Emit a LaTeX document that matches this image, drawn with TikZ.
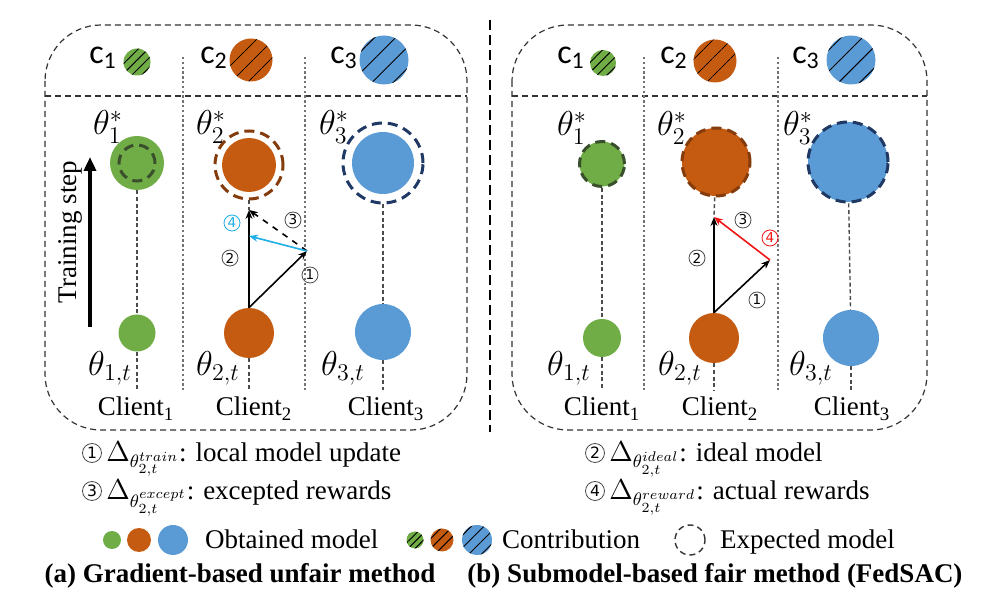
\documentclass[tikz,border=0pt]{standalone}
\usepackage{fontspec}
\setmainfont{Liberation Serif}
\newfontfamily\circfont{DejaVu Sans}
\newfontfamily\cfont{Carlito}
\usepackage{tikz}
\usetikzlibrary{positioning, arrows.meta, patterns.meta}

\definecolor{cgreen}{HTML}{70AD47}
\definecolor{corange}{HTML}{C55A11}
\definecolor{cblue}{HTML}{5B9BD5}
\definecolor{dgreen}{HTML}{3A4F2C}
\definecolor{dorange}{HTML}{843C0C}
\definecolor{dblue}{HTML}{203864}
\definecolor{cyanA}{HTML}{1EAEE8}
\definecolor{redA}{HTML}{F01515}

% lowered double script for the legend
\newcommand{\lowsub}[1]{\lower1.2pt\hbox{$\scriptscriptstyle #1$}}

\begin{document}
\begin{tikzpicture}[
  x=0.5pt, y=-0.5pt,
  font=\fontsize{13.5}{16}\selectfont,
  frame/.style={draw=black!80, line width=0.6pt, dash pattern=on 3pt off 2pt},
  colsep/.style={draw=black!55, line width=0.6pt, dash pattern=on 1.2pt off 1.2pt},
  link/.style={draw=black!70, line width=0.7pt, dash pattern=on 2pt off 1.3pt},
  ball/.style={circle, inner sep=0pt, minimum size=#1},
  halo/.style={circle, inner sep=0pt, minimum size=#1, line width=1.5pt, dash pattern=on 5pt off 3pt},
  hatch/.style={pattern={Lines[angle=45, distance=#1, line width=0.5pt]}},
  num/.style={circle, draw=black!70, line width=0.4pt, inner sep=0pt, minimum size=8pt,
    font=\circfont\fontsize{6.8}{7}\selectfont},
  keynum/.style={num, minimum size=9.5pt, font=\circfont\fontsize{7.8}{8}\selectfont},
  theta/.style={font=\fontsize{17}{17}\selectfont},
  upd/.style={line width=0.8pt, -{Stealth[length=4.5pt, width=3.5pt]}},
  cl/.style={font=\cfont\fontsize{17}{17}\selectfont},
  keytext/.style={anchor=base west, inner sep=0pt},
]
\useasboundingbox (0,0) rectangle (991,603);

% ---------------- (a) gradient-based ----------------
\draw[frame, rounded corners=28pt] (45,25) rectangle (467,430);
\draw[frame] (45,96) -- (467,96);
\foreach \x in {183,305} \draw[colsep] (\x,57) -- (\x,390);

% contributions
\node[cl] (aL1) at (103,58) {c\textsubscript{1}};
\node[cl] (aL2) at (214,58) {c\textsubscript{2}};
\node[cl] (aL3) at (344,58) {c\textsubscript{3}};
\node[ball=13.5pt, preaction={fill=cgreen}, hatch=3.5pt] (aC1) at (137,62) {};
\node[ball=21.5pt, preaction={fill=corange}, hatch=6.5pt] (aC2) at (251,60) {};
\node[ball=24.5pt, preaction={fill=cblue}, hatch=7.5pt] (aC3) at (384,60) {};

% expected models (top) and obtained models (bottom)
\node[ball=27pt, fill=cgreen] (aTop1) at (137,163) {};
\node[halo=18pt, draw=dgreen] (aExp1) at (137,163) {};
\node[ball=27pt, fill=corange] (aTop2) at (249,165) {};
\node[halo=34pt, draw=dorange] (aExp2) at (249,165) {};
\node[ball=31pt, fill=cblue] (aTop3) at (383,163) {};
\node[halo=40pt, draw=dblue] (aExp3) at (383,163) {};

\node[ball=18.5pt, fill=cgreen] (aBot1) at (137,333) {};
\node[ball=25pt, fill=corange] (aBot2) at (249,333) {};
\node[ball=28pt, fill=cblue] (aBot3) at (383,332) {};

\node[theta] (aS1) at (108,127) {$\theta_1^*$};
\node[theta] (aS2) at (211,127) {$\theta_2^*$};
\node[theta] (aS3) at (334,127) {$\theta_3^*$};
\node[theta] (aT1) at (110,368) {$\theta_{1,t}$};
\node[theta] (aT2) at (218,368) {$\theta_{2,t}$};
\node[theta] (aT3) at (343,368) {$\theta_{3,t}$};
\node[anchor=base] (aK1) at (136,416) {Client\textsubscript{1}};
\node[anchor=base] (aK2) at (254,416) {Client\textsubscript{2}};
\node[anchor=base] (aK3) at (386,416) {Client\textsubscript{3}};

\coordinate (aEnd1) at (137,390);
\coordinate (aEnd2) at (249,390);
\coordinate (aEnd3) at (383,390);
\coordinate (aIdeal) at (249,210);
\coordinate (aTrain) at (307,251);
\coordinate (aReward) at (249,236);

\draw[link] (aTop1) -- (aBot1);
\draw[link] (aBot1) -- (aEnd1);
\draw[link] (aExp2) -- (aIdeal);
\draw[link] (aBot2) -- (aEnd2);
\draw[link] (aExp3) -- (aBot3);
\draw[link] (aBot3) -- (aEnd3);

% updates
\draw[upd] (aBot2.north) -- (aIdeal);
\draw[upd] (aBot2.north) -- (aTrain);
\draw[upd, dashed] (aTrain) -- (aIdeal);
\draw[upd, color=cyanA] (aTrain) -- (aReward);
\node[num] (aN1) at (310,275) {1};
\node[num] (aN2) at (230,258) {2};
\node[num] (aN3) at (293,220) {3};
\node[num, draw=cyanA, text=cyanA] (aN4) at (232,223) {4};

% training direction
\coordinate (tsFrom) at (90,327);
\coordinate (tsTo) at (90,157);
\draw[line width=2pt, -{Triangle[length=7pt, width=6pt]}] (tsFrom) -- (tsTo);
\node[rotate=90] (tsLab) at (70,232) {Training step};

% divider
\coordinate (divTop) at (490,20);
\coordinate (divBot) at (490,432);
\draw[line width=0.9pt, dash pattern=on 5pt off 2.5pt] (divTop) -- (divBot);

% ---------------- (b) FedSAC ----------------
\draw[frame, rounded corners=28pt] (512,25) rectangle (927,430);
\draw[frame] (512,96) -- (927,96);
\foreach \x in {644,778} \draw[colsep] (\x,57) -- (\x,390);

\node[cl] (bL1) at (571,58) {c\textsubscript{1}};
\node[cl] (bL2) at (674,58) {c\textsubscript{2}};
\node[cl] (bL3) at (806,58) {c\textsubscript{3}};
\node[ball=13pt, preaction={fill=cgreen}, hatch=3.5pt] (bC1) at (603,63) {};
\node[ball=21.5pt, preaction={fill=corange}, hatch=6.5pt] (bC2) at (715,61) {};
\node[ball=24.5pt, preaction={fill=cblue}, hatch=7.5pt] (bC3) at (851,60) {};

\node[halo=22.5pt, fill=cgreen, draw=dgreen] (bTop1) at (602,164) {};
\node[halo=34pt, fill=corange, draw=dorange] (bTop2) at (716,162) {};
\node[halo=40pt, fill=cblue, draw=dblue] (bTop3) at (848,162) {};

\node[ball=19pt, fill=cgreen] (bBot1) at (602,338) {};
\node[ball=25pt, fill=corange] (bBot2) at (714,338) {};
\node[ball=28pt, fill=cblue] (bBot3) at (851,338) {};

\node[theta] (bS1) at (572,128) {$\theta_1^*$};
\node[theta] (bS2) at (672,128) {$\theta_2^*$};
\node[theta] (bS3) at (798,128) {$\theta_3^*$};
\node[theta] (bT1) at (569,368) {$\theta_{1,t}$};
\node[theta] (bT2) at (680,368) {$\theta_{2,t}$};
\node[theta] (bT3) at (811,368) {$\theta_{3,t}$};
\node[anchor=base] (bK1) at (602,416) {Client\textsubscript{1}};
\node[anchor=base] (bK2) at (720,416) {Client\textsubscript{2}};
\node[anchor=base] (bK3) at (852,416) {Client\textsubscript{3}};

\coordinate (bEnd1) at (602,390);
\coordinate (bEnd2) at (714,390);
\coordinate (bEnd3) at (851,390);
\coordinate (bIdeal) at (714,217);
\coordinate (bTrain) at (770,260);

\draw[link] (bTop1) -- (bBot1);
\draw[link] (bBot1) -- (bEnd1);
\draw[link] (bTop2) -- (bIdeal);
\draw[link] (bBot2) -- (bEnd2);
\draw[link] (bTop3) -- (bBot3);
\draw[link] (bBot3) -- (bEnd3);

\draw[upd] (bBot2.north) -- (bIdeal);
\draw[upd] (bBot2.north) -- (bTrain);
\draw[upd, color=redA] (bTrain) -- (bIdeal);
\node[num] (bN1) at (757,300) {1};
\node[num] (bN2) at (697,258) {2};
\node[num] (bN3) at (743,220) {3};
\node[num, draw=redA, text=redA] (bN4) at (770,238) {4};

% ---------------- legend ----------------
\node[keynum] (kn1) at (92,453) {1};
\node[keytext] (keyTrain) at (106,462) {$\Delta_{\theta^{train}_{\lowsub{2,t}}}$: local model update};
\node[keynum] (kn3) at (92,491) {3};
\node[keytext] (keyExcept) at (106,500) {$\Delta_{\theta^{except}_{\lowsub{2,t}}}$: excepted rewards};
\node[keynum] (kn2) at (595,453) {2};
\node[keytext] (keyIdeal) at (609,462) {$\Delta_{\theta^{ideal}_{\lowsub{2,t}}}$: ideal model};
\node[keynum] (kn4) at (595,491) {4};
\node[keytext] (keyReward) at (609,500) {$\Delta_{\theta^{reward}_{\lowsub{2,t}}}$: actual rewards};

\node[ball=9pt, fill=cgreen] (gotA) at (112,540) {};
\node[ball=12pt, fill=corange] (gotB) at (139,540) {};
\node[ball=15pt, fill=cblue] (gotC) at (173,540) {};
\node[anchor=base west] (gotLab) at (198,549) {Obtained model};
\node[ball=8.5pt, preaction={fill=cgreen}, hatch=2.5pt] (conA) at (415,540) {};
\node[ball=11.5pt, preaction={fill=corange}, hatch=3.5pt] (conB) at (442,540) {};
\node[ball=15pt, preaction={fill=cblue}, hatch=4.5pt] (conC) at (477,540) {};
\node[anchor=base west] (conLab) at (495,549) {Contribution};
\node[ball=15pt, draw=black!80, line width=0.7pt, dash pattern=on 3pt off 2pt] (expA) at (690,540) {};
\node[anchor=base west] (expLab) at (713,549) {Expected model};

\node[anchor=base, font=\bfseries\fontsize{13.5}{16}\selectfont] (capA) at (240,583) {(a) Gradient-based unfair method};
\node[anchor=base, font=\bfseries\fontsize{13.5}{16}\selectfont] (capB) at (715,583) {(b) Submodel-based fair method (FedSAC)};
\end{tikzpicture}
\end{document}
